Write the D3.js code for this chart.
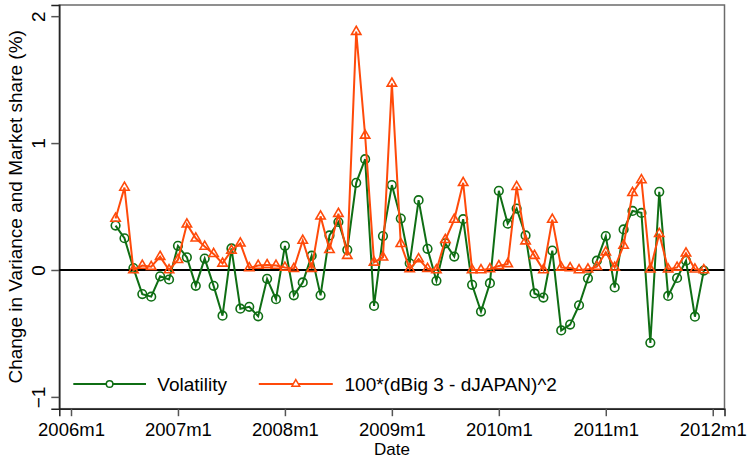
<!DOCTYPE html>
<html>
<head>
<meta charset="utf-8">
<script src="https://cdn.jsdelivr.net/npm/d3@7"></script>
<style>
  html, body { margin: 0; padding: 0; background: #fff; }
  svg { display: block; font-family: "Liberation Sans", Arial, sans-serif; }
</style>
</head>
<body>
<svg id="chart" width="750" height="459"></svg>
<script>
// Monthly observations, Stata-style date labels
const dates = [
  "2006m6","2006m7","2006m8","2006m9","2006m10","2006m11","2006m12",
  "2007m1","2007m2","2007m3","2007m4","2007m5","2007m6","2007m7","2007m8","2007m9","2007m10","2007m11","2007m12",
  "2008m1","2008m2","2008m3","2008m4","2008m5","2008m6","2008m7","2008m8","2008m9","2008m10","2008m11","2008m12",
  "2009m1","2009m2","2009m3","2009m4","2009m5","2009m6","2009m7","2009m8","2009m9","2009m10","2009m11","2009m12",
  "2010m1","2010m2","2010m3","2010m4","2010m5","2010m6","2010m7","2010m8","2010m9","2010m10","2010m11","2010m12",
  "2011m1","2011m2","2011m3","2011m4","2011m5","2011m6","2011m7","2011m8","2011m9","2011m10","2011m11","2011m12"
];

// Change in volatility
const volatility = [
  0.35, 0.25, 0.015, -0.19, -0.21, -0.05, -0.075,
  0.19, 0.10, -0.125, 0.09, -0.125, -0.36, 0.17, -0.305, -0.29, -0.365, -0.07, -0.23,
  0.19, -0.20, -0.098, 0.113, -0.20, 0.272, 0.378, 0.159, 0.687, 0.873, -0.283, 0.267,
  0.669, 0.405, 0.053, 0.55, 0.167, -0.085, 0.21, 0.106, 0.40, -0.117, -0.328, -0.104,
  0.624, 0.365, 0.484, 0.272, -0.185, -0.217, 0.153, -0.476, -0.43, -0.278, -0.066, 0.073,
  0.267, -0.138, 0.32, 0.465, 0.45, -0.574, 0.616, -0.204, -0.063, 0.073, -0.368, -0.005
];

// 100*(dBig 3 - dJAPAN)^2
const shareGap = [
  0.405, 0.65, 0.0, 0.035, 0.026, 0.105, 0.0,
  0.08, 0.36, 0.25, 0.185, 0.127, 0.052, 0.153, 0.21, 0.015, 0.035, 0.04, 0.035,
  0.02, 0.01, 0.232, 0.01, 0.423, 0.159, 0.444, 0.113, 1.878, 1.06, 0.06, 0.10,
  1.47, 0.206, 0.008, 0.087, 0.01, 0.0, 0.238, 0.397, 0.687, 0.0, 0.0, 0.008,
  0.032, 0.048, 0.656, 0.227, 0.113, 0.0, 0.397, 0.02, 0.015, 0.0, 0.005, 0.026,
  0.14, 0.02, 0.193, 0.608, 0.709, 0.005, 0.286, 0.005, 0.02, 0.132, 0.005, 0.0
];

const xTickLabels = ["2006m1","2007m1","2008m1","2009m1","2010m1","2011m1","2012m1"];
const yTicks = [-1, 0, 1, 2];
const seriesNames = ["Volatility", "100*(dBig 3 - dJAPAN)^2"];

const GREEN = "#0f6e14";
const ORANGE = "#ff4a0a";

// "2006m6" -> months since 2006m1
const monthIndex = s => {
  const [y, m] = s.split("m").map(Number);
  return (y - 2006) * 12 + (m - 1);
};

const svg = d3.select("#chart");
const plot = { left: 59.3, right: 724.5, top: 5, bottom: 408.7 };

const x = d3.scaleLinear().domain([-1.313, 73.32]).range([plot.left, plot.right]);
const y = d3.scaleLinear().domain([-1.093, 2.088]).range([plot.bottom, plot.top]);

const rows = dates.map((d, i) => ({ t: monthIndex(d), v: volatility[i], s: shareGap[i] }));

// plot region frame
svg.append("rect")
  .attr("x", plot.left).attr("y", plot.top)
  .attr("width", plot.right - plot.left).attr("height", plot.bottom - plot.top)
  .attr("fill", "none").attr("stroke", "#6b6b6b").attr("stroke-width", 1.5);

// y axis
const yAxis = svg.append("g")
  .attr("transform", `translate(${plot.left},0)`)
  .call(d3.axisLeft(y).tickValues(yTicks).tickSize(8).tickFormat(""));
yAxis.select(".domain").attr("stroke", "#222").attr("stroke-width", 1.5);
yAxis.selectAll(".tick line").attr("stroke", "#555").attr("stroke-width", 1.5);
yAxis.selectAll(".tick").append("text")
  .attr("transform", "translate(-14.5,0) rotate(-90)")
  .attr("text-anchor", "middle")
  .attr("fill", "#000")
  .style("font-size", "19px")
  .text(d => d3.format("d")(d));

// x axis
const xAxis = svg.append("g")
  .attr("transform", `translate(0,${plot.bottom})`)
  .call(d3.axisBottom(x)
    .tickValues(xTickLabels.map(monthIndex))
    .tickSize(7.5)
    .tickFormat((d, i) => xTickLabels[i]));
xAxis.select(".domain").attr("stroke", "#222").attr("stroke-width", 1.5);
xAxis.selectAll(".tick line").attr("stroke", "#555").attr("stroke-width", 1.5);
xAxis.selectAll(".tick text")
  .attr("y", 27.3).attr("dy", null)
  .attr("fill", "#000")
  .style("font-size", "18.5px")
  .style("font-family", "'Liberation Sans', Arial, sans-serif");

// axis titles
svg.append("text")
  .attr("x", (plot.left + plot.right) / 2).attr("y", 455.3)
  .attr("text-anchor", "middle").style("font-size", "17px").text("Date");
svg.append("text")
  .attr("transform", `translate(22,${(plot.top + plot.bottom) / 2}) rotate(-90)`)
  .attr("text-anchor", "middle").style("font-size", "19px")
  .text("Change in Variance and Market share (%)");

// zero reference line
svg.append("line")
  .attr("x1", plot.left).attr("x2", plot.right)
  .attr("y1", y(0)).attr("y2", y(0))
  .attr("stroke", "#000").attr("stroke-width", 2);

// series
const triangle = d3.symbol().type(d3.symbolTriangle).size(38);

const lineV = d3.line().x(d => x(d.t)).y(d => y(d.v));
const lineS = d3.line().x(d => x(d.t)).y(d => y(d.s));

svg.append("path").datum(rows)
  .attr("d", lineV).attr("fill", "none")
  .attr("stroke", GREEN).attr("stroke-width", 2);
svg.append("g").selectAll("circle").data(rows).join("circle")
  .attr("cx", d => x(d.t)).attr("cy", d => y(d.v)).attr("r", 4.3)
  .attr("fill", "none").attr("stroke", GREEN).attr("stroke-width", 1.6);

svg.append("path").datum(rows)
  .attr("d", lineS).attr("fill", "none")
  .attr("stroke", ORANGE).attr("stroke-width", 2);
svg.append("g").selectAll("path").data(rows).join("path")
  .attr("d", triangle)
  .attr("transform", d => `translate(${x(d.t)},${y(d.s)})`)
  .attr("fill", "none").attr("stroke", ORANGE).attr("stroke-width", 1.6);

// legend
const ly = 384;
const legend = svg.append("g");
legend.append("line").attr("x1", 73.3).attr("x2", 146).attr("y1", ly).attr("y2", ly)
  .attr("stroke", GREEN).attr("stroke-width", 2);
legend.append("circle").attr("cx", 109.6).attr("cy", ly).attr("r", 3.3)
  .attr("fill", "#fff").attr("stroke", GREEN).attr("stroke-width", 1.5);
legend.append("text").attr("x", 157.3).attr("y", ly + 6.8)
  .style("font-size", "19px").text(seriesNames[0]);

legend.append("line").attr("x1", 258.8).attr("x2", 332.8).attr("y1", ly).attr("y2", ly)
  .attr("stroke", ORANGE).attr("stroke-width", 2);
legend.append("path").attr("d", d3.symbol().type(d3.symbolTriangle).size(26))
  .attr("transform", `translate(295.8,${ly})`)
  .attr("fill", "#fff").attr("stroke", ORANGE).attr("stroke-width", 1.5);
legend.append("text").attr("x", 344.5).attr("y", ly + 6.8)
  .style("font-size", "19px").text(seriesNames[1]);
</script>
</body>
</html>
